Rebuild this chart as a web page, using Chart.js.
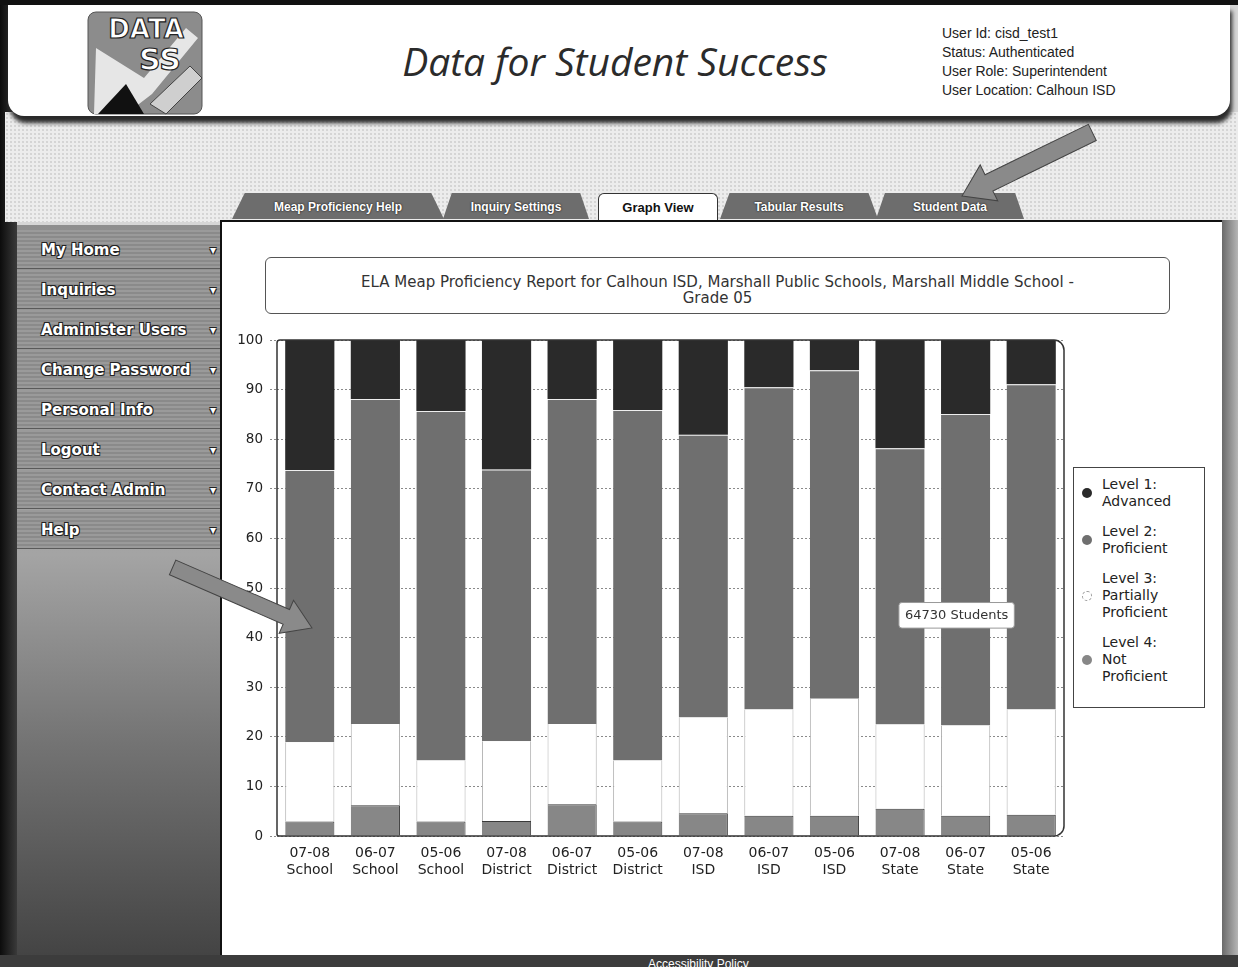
<!DOCTYPE html>
<html>
<head>
<meta charset="utf-8">
<title>ELA Meap Proficiency Report</title>
<script src="https://cdn.jsdelivr.net/npm/chart.js@4.4.0/dist/chart.umd.min.js"></script>
<style>
  body { margin:0; width:1238px; height:967px; overflow:hidden; position:relative;
         background:#d6d6d6; font-family:"Liberation Sans", Arial, sans-serif; }
  .abs { position:absolute; }
  #edgeLeft { left:0; top:0; width:17px; height:967px; background:linear-gradient(to right,#0c0c0c,#3a3a3a); }
  #edgeTop { left:0; top:0; width:1238px; height:5px; background:#111; }
  #band { left:5px; top:112px; width:1233px; height:110px;
          background-color:#ececec;
          background-image:radial-gradient(#b8b8b8 0.6px, transparent 0.8px);
          background-size:4px 4px; }
  #header { left:8px; top:4px; width:1222px; height:112px; background:#fff;
            border-radius:0 0 16px 16px; box-shadow:2px 7px 4px #2a2a2a; }
  #logo { left:86px; top:8px; }
  #siteTitle { left:300px; top:34px; width:630px; text-align:center; font:italic 39px "Open Sans", sans-serif; color:#2b2b2b; }
  #user { left:942px; top:24px; font-size:14px; line-height:19px; color:#222; }
  .tab { top:193px; height:26px; line-height:28px; text-align:center; color:#fff; font-weight:bold; font-size:12px;
         background:#6d6d6d; clip-path:polygon(6% 0,94% 0,100% 100%,0 100%); text-shadow:0 0 2px #000; }
  .tab.on { background:#fff; color:#111; font-size:13px; text-shadow:none; clip-path:none;
            border:1px solid #333; border-bottom:none; border-radius:6px 6px 0 0; }
  #main { left:220px; top:220px; width:1000px; height:734px; background:#fff; border:2px solid #111; }
  #sidebar { left:17px; top:225px; width:203px; height:730px;
             background:linear-gradient(to bottom,#8e8e8e 0,#a4a4a4 330px,#737373 520px,#444 730px); }
  .menu { position:absolute; left:0; width:203px; height:39px; border-bottom:1px solid #5a5a5a;
          background:repeating-linear-gradient(to bottom,#9a9a9a 0,#9a9a9a 2px,#8a8a8a 2px,#8a8a8a 4px);
          color:#fff; font:bold 15px "DejaVu Sans", sans-serif; line-height:40px; padding-left:24px; box-sizing:border-box;
          text-shadow:-1px -1px 0 #222,1px -1px 0 #222,-1px 1px 0 #222,1px 1px 0 #222; white-space:nowrap; }
  .menu::after { content:"\25BE"; position:absolute; right:4px; top:0; font-size:12px; }
  #edgeRight { left:1222px; top:220px; width:16px; height:747px; background:linear-gradient(to right,#6a6a6a,#b5b5b5); }
  #foot { left:0; top:955px; width:1238px; height:12px; background:#3c3c3c; }
  #foot span { position:absolute; left:648px; top:2px; color:#fff; font-size:12px; }
  #titleBox { left:265px; top:257px; width:905px; height:57px; border:1px solid #555; border-radius:6px;
              text-align:center; font:15px "DejaVu Sans"; color:#333; line-height:16px; padding-top:16px; box-sizing:border-box; }
  #chartWrap { left:228px; top:325px; width:990px; height:560px; }
  #legend { left:1073px; top:467px; width:132px; height:241px; border:1px solid #444; box-sizing:border-box;
            padding:8px 4px 0 28px; font:14px "DejaVu Sans"; color:#222; line-height:17px; background:#fff; }
  .lg { position:relative; margin-bottom:13px; width:76px; }
  .lg i { position:absolute; left:-20px; top:50%; margin-top:-5px; width:10px; height:10px; border-radius:50%; }
  svg.arrows { position:absolute; left:0; top:0; pointer-events:none; }
</style>
</head>
<body>
<div id="edgeLeft" class="abs"></div>
<div id="band" class="abs"></div>
<div id="header" class="abs"></div>
<div id="edgeTop" class="abs"></div>
<svg id="logo" class="abs" width="120" height="108">
  <rect x="2" y="4" width="114" height="102" rx="8" fill="#8c8c8c" stroke="#555"/>
  <polygon points="10,40 58,70 100,20 112,30 66,86 40,106 8,106" fill="#e6e6e6"/>
  <polygon points="12,106 40,76 58,106" fill="#111"/>
  <polygon points="64,96 104,58 116,70 80,106" fill="#cfcfcf" stroke="#444"/>
  <text x="60" y="30" text-anchor="middle" font-family="DejaVu Sans" font-weight="bold" font-size="26" fill="#fff" stroke="#222" stroke-width="1.2">DATA</text>
  <text x="74" y="62" text-anchor="middle" font-family="DejaVu Sans" font-weight="bold" font-size="30" fill="#fff" stroke="#222" stroke-width="1.2">SS</text>
</svg>
<div id="siteTitle" class="abs">Data for Student Success</div>
<div id="user" class="abs">User Id: cisd_test1<br>Status: Authenticated<br>User Role: Superintendent<br>User Location: Calhoun ISD</div>

<div class="abs tab" style="left:232px;width:212px">Meap Proficiency Help</div>
<div class="abs tab" style="left:443px;width:146px">Inquiry Settings</div>
<div class="abs tab" style="left:876px;width:148px">Student Data</div>
<div class="abs tab" style="left:720px;width:158px">Tabular Results</div>
<div class="abs tab on" style="left:598px;width:118px">Graph View</div>

<div id="main" class="abs"></div>
<div id="edgeRight" class="abs"></div>
<div id="sidebar" class="abs">
  <div class="menu" style="top:5px">My Home</div>
  <div class="menu" style="top:45px">Inquiries</div>
  <div class="menu" style="top:85px">Administer Users</div>
  <div class="menu" style="top:125px">Change Password</div>
  <div class="menu" style="top:165px">Personal Info</div>
  <div class="menu" style="top:205px">Logout</div>
  <div class="menu" style="top:245px">Contact Admin</div>
  <div class="menu" style="top:285px">Help</div>
</div>
<div id="foot" class="abs"><span>Accessibility Policy</span></div>

<div id="titleBox" class="abs">ELA Meap Proficiency Report for Calhoun ISD, Marshall Public Schools, Marshall Middle School -<br>Grade 05</div>
<div id="chartWrap" class="abs"><canvas id="chart"></canvas></div>
<div id="legend" class="abs"></div>

<svg class="arrows" width="1238" height="967">
  <g fill="#8a8a8a" stroke="#444" stroke-width="1">
    <polygon transform="translate(962,196) rotate(154)" points="0,0 -30,-20 -30,-9 -145,-9 -145,9 -30,9 -30,20"/>
    <polygon transform="translate(312,628) rotate(23.5)" points="0,0 -28,-18 -28,-8 -152,-8 -152,8 -28,8 -28,18"/>
  </g>
</svg>

<script>
// categories (two-line labels)
const periods = ['07-08','06-07','05-06','07-08','06-07','05-06','07-08','06-07','05-06','07-08','06-07','05-06'];
const levels  = ['School','School','School','District','District','District','ISD','ISD','ISD','State','State','State'];

// percent of students per level
const advanced    = [26.2, 11.9, 14.3, 26.1, 11.9, 14.1, 19.1, 9.5, 6.1, 21.8, 14.9, 8.9];
const proficient  = [54.9, 65.5, 70.5, 54.8, 65.5, 70.7, 57.0, 65.0, 66.2, 55.7, 62.8, 65.6];
const partial     = [16.0, 16.4, 12.3, 16.1, 16.2, 12.3, 19.3, 21.4, 23.6, 17.0, 18.2, 21.2];
const notProf     = [2.9, 6.2, 2.9, 3.0, 6.4, 2.9, 4.6, 4.1, 4.1, 5.5, 4.1, 4.3];

const yTicks = [0,10,20,30,40,50,60,70,80,90,100];
const hoverStudents = 64730;

const FONT = '"DejaVu Sans", Verdana, sans-serif';

// frame round the plot, rounded on the right side
const frame = {
  id: 'frame',
  afterDatasetsDraw(chart) {
    const a = chart.chartArea, c = chart.ctx;
    c.save();
    c.strokeStyle = '#333';
    c.lineWidth = 1.5;
    c.beginPath();
    c.roundRect(a.left, a.top, a.right - a.left, a.bottom - a.top, [3, 10, 10, 2]);
    c.stroke();
    c.restore();
  }
};

Chart.Tooltip.positioners.atPoint = function(items, pos) { return pos; };

const labels = periods.map((p, i) => [p, levels[i]]);
const data = {
  labels: labels,
  datasets: [
    { label: 'Level 4: Not Proficient', data: notProf, backgroundColor: '#878787',
      borderColor: '#3a3a3a', borderWidth: {top:1, right:1, left:0, bottom:0} },
    { label: 'Level 3: Partially Proficient', data: partial, backgroundColor: '#ffffff',
      borderColor: '#b0b0b0', borderWidth: {left:1, right:1, top:0, bottom:0} },
    { label: 'Level 2: Proficient', data: proficient, backgroundColor: '#6f6f6f',
      borderColor: '#eeeeee', borderWidth: {top:1, left:0, right:0, bottom:0} },
    { label: 'Level 1: Advanced', data: advanced, backgroundColor: '#2a2a2a',
      borderColor: '#2a2a2a', borderWidth: 0 }
  ]
};

const config = {
  type: 'bar',
  data: data,
  options: {
    responsive: true,
    maintainAspectRatio: false,
    animation: false,
    events: [],
    layout: { padding: { top: 10, right: 154, left: 0, bottom: 0 } },
    datasets: { bar: { barPercentage: 0.75, categoryPercentage: 1.0, borderSkipped: false } },
    scales: {
      x: {
        stacked: true,
        grid: { display: false },
        border: { display: false },
        ticks: { color: '#222', font: { family: FONT, size: 14, lineHeight: 1.2 }, padding: 1, maxRotation: 0, autoSkip: false },
        afterFit(s) { s.height = 49; }
      },
      y: {
        stacked: true,
        min: 0, max: 100,
        afterBuildTicks(s) { s.ticks = yTicks.map(v => ({ value: v })); },
        grid: { color: '#8a8a8a', tickLength: 7, tickColor: '#8a8a8a', tickBorderDash: [2, 2] },
        border: { display: false, dash: [2, 2] },
        ticks: { color: '#222', font: { family: FONT, size: 13.5 }, padding: 7 },
        afterFit(s) { s.width = 49; }
      }
    },
    plugins: {
      legend: { display: false },
      title: { display: false },
      tooltip: {
        enabled: true,
        animation: false,
        position: 'atPoint',
        xAlign: 'center', yAlign: 'center',
        caretSize: 0,
        backgroundColor: '#ffffff',
        borderColor: '#999',
        borderWidth: 1,
        cornerRadius: 3,
        bodyColor: '#333',
        bodyFont: { family: FONT, size: 13 },
        padding: { x: 6, y: 5 },
        displayColors: false,
        callbacks: {
          title: () => '',
          label: () => hoverStudents + ' Students'
        }
      }
    }
  },
  plugins: [frame]
};

const c = document.getElementById('chart').getContext('2d');
const chart = new Chart(c, config);

// legend from the datasets, top level first
const box = document.getElementById('legend');
chart.data.datasets.slice().reverse().forEach(ds => {
  const d = document.createElement('div');
  d.className = 'lg';
  const dot = document.createElement('i');
  if (ds.backgroundColor === '#ffffff') {
    dot.style.border = '1px dashed #999';
    dot.style.boxSizing = 'border-box';
  } else {
    dot.style.background = ds.backgroundColor;
  }
  d.appendChild(dot);
  d.appendChild(document.createTextNode(ds.label));
  box.appendChild(d);
});

// the hover box shown over 06-07 State
const xs = chart.scales.x, ys = chart.scales.y;
chart.tooltip.setActiveElements([{ datasetIndex: 2, index: 10 }],
  { x: xs.getPixelForValue(10) - 9, y: ys.getPixelForValue(44.5) });
chart.update();
</script>
</body>
</html>
